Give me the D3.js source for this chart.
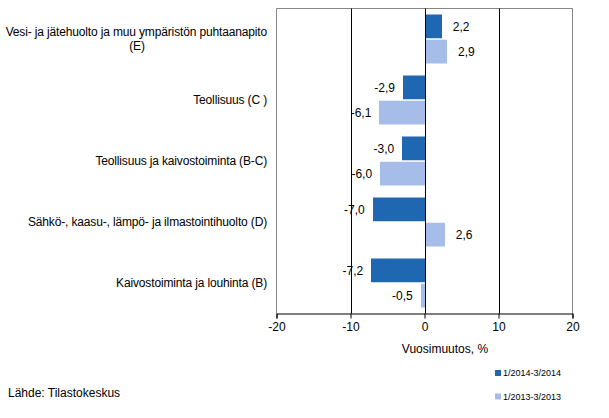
<!DOCTYPE html>
<html>
<head>
<meta charset="utf-8">
<script src="https://cdn.jsdelivr.net/npm/d3@7"></script>
<style>
  body { margin: 0; background: #fff; }
  svg { font-family: "Liberation Sans", Arial, sans-serif; }
</style>
</head>
<body>
<svg id="chart" width="609" height="418"></svg>
<script>
// data
const categories = [
  ["Vesi- ja jätehuolto ja muu ympäristön puhtaanapito", "(E)"],
  ["Teollisuus (C )"],
  ["Teollisuus ja kaivostoiminta (B-C)"],
  ["Sähkö-, kaasu-, lämpö- ja ilmastointihuolto (D)"],
  ["Kaivostoiminta ja louhinta (B)"]
];
const seriesNames = ["1/2014-3/2014", "1/2013-3/2013"];
const values2014 = [2.2, -2.9, -3.0, -7.0, -7.2];
const values2013 = [2.9, -6.1, -6.0, 2.6, -0.5];
const xTicks = [-20, -10, 0, 10, 20];
const colors = ["#1f67b1", "#a7bde9"];

const svg = d3.select("#chart");
const [pLeft, pRight, pTop, pBottom] = [276.5, 572.5, 8.5, 313.5];

let x = d3.scaleLinear().domain([-20, 20]).range([pLeft, pRight]);
let y = d3.scaleBand().domain(d3.range(categories.length)).range([pTop, pBottom]);
let ySub = d3.scaleBand().domain([0, 1]).range([6, y.bandwidth() - 6]).paddingInner(0.06);

let fmt = v => d3.format(".1f")(v).replace(".", ",").replace("−", "-");

// frame (grey) left, top, right
svg.append("path")
  .attr("d", `M${pLeft},${pBottom}V${pTop}H${pRight}V${pBottom}`)
  .attr("fill", "none")
  .attr("stroke", "#868686");

// vertical grid lines
for (let t of [-10, 0, 10]) {
  svg.append("line")
    .attr("x1", Math.round(x(t)) + 0.5).attr("x2", Math.round(x(t)) + 0.5)
    .attr("y1", pTop).attr("y2", pBottom)
    .attr("stroke", "#000");
}

// bars
let series = [values2014, values2013];
for (let [s, vals] of series.entries()) {
  for (let [i, v] of vals.entries()) {
    let x0 = Math.round(x(Math.min(0, v)));
    let x1 = Math.round(x(Math.max(0, v)));
    let by = y(i) + ySub(s);
    svg.append("rect")
      .attr("x", x0 + (v > 0 ? 1 : 0))
      .attr("y", by)
      .attr("width", x1 - x0)
      .attr("height", ySub.bandwidth())
      .attr("fill", colors[s]);
    svg.append("text")
      .attr("x", v >= 0 ? x(v) + 12 : x(v) - 8)
      .attr("y", by + ySub.bandwidth() / 2)
      .attr("dy", "0.35em")
      .attr("text-anchor", v >= 0 ? "start" : "end")
      .attr("font-size", 12)
      .attr("fill", "#000")
      .text(fmt(v));
  }
}

// bottom axis
let axis = svg.append("g")
  .attr("transform", `translate(0,${pBottom})`)
  .call(d3.axisBottom(x).tickValues(xTicks).tickSize(5).tickFormat(d => String(d).replace("−", "-")));
axis.select(".domain").attr("stroke", "#000");
axis.selectAll(".tick line").attr("stroke", "#000");
axis.selectAll(".tick text")
  .attr("font-size", 12)
  .attr("font-family", "Liberation Sans, Arial, sans-serif")
  .attr("fill", "#000")
  .attr("y", 9);

// category labels
for (let [i, lines] of categories.entries()) {
  let cy = y(i) + y.bandwidth() / 2;
  let t = svg.append("text")
    .attr("font-size", 12)
    .attr("letter-spacing", -0.15)
    .attr("fill", "#000");
  for (let [j, line] of lines.entries()) {
    t.append("tspan")
      .attr("x", line.startsWith("(") ? 137 : 267)
      .attr("y", cy + (j - (lines.length - 1) / 2) * 14)
      .attr("dy", "0.35em")
      .attr("text-anchor", line.startsWith("(") ? "middle" : "end")
      .text(line);
  }
}

// axis title
svg.append("text")
  .attr("x", 445).attr("y", 349)
  .attr("dy", "0.35em")
  .attr("text-anchor", "middle")
  .attr("font-size", 12)
  .text("Vuosimuutos, %");

// legend
for (let [i, name] of seriesNames.entries()) {
  let ly = 373 + i * 23.5;
  svg.append("rect")
    .attr("x", 495).attr("y", ly - 3)
    .attr("width", 6).attr("height", 6)
    .attr("fill", colors[i]);
  svg.append("text")
    .attr("x", 503).attr("y", ly)
    .attr("dy", "0.35em")
    .attr("font-size", 9)
    .text(name);
}

// source
svg.append("text")
  .attr("x", 8).attr("y", 393)
  .attr("dy", "0.35em")
  .attr("font-size", 12)
  .text("Lähde: Tilastokeskus");
</script>
</body>
</html>
